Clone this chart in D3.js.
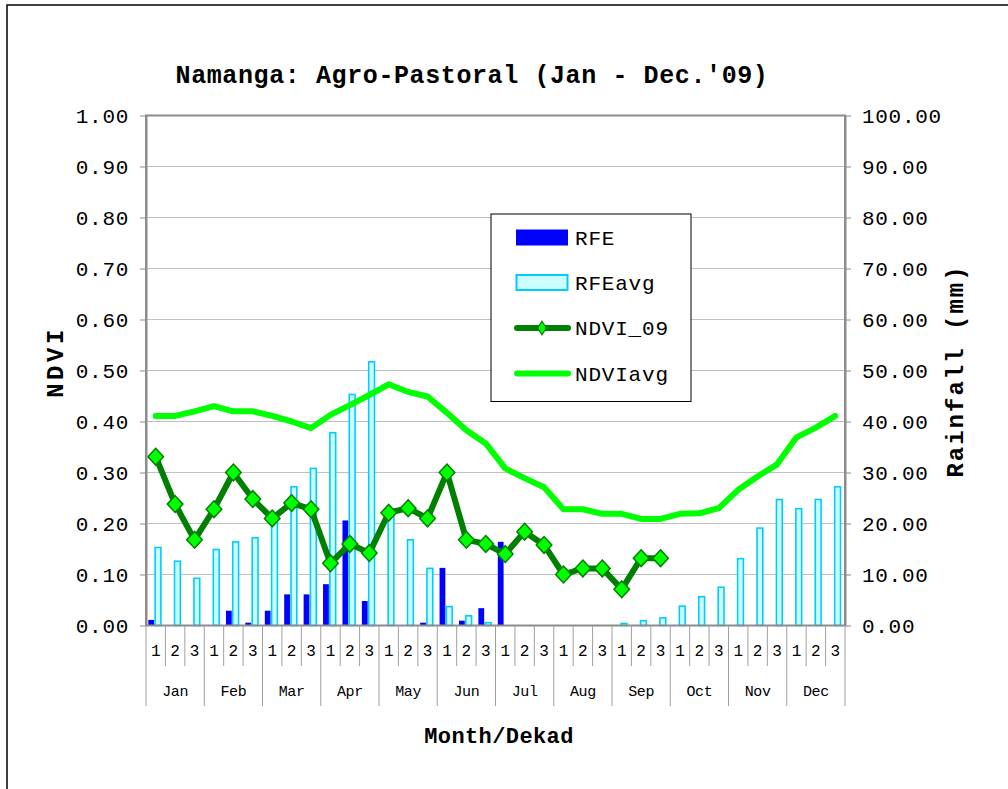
<!DOCTYPE html>
<html><head><meta charset="utf-8">
<script src="https://cdn.jsdelivr.net/npm/d3@7"></script>
<style>
body{margin:0;background:#fff}
svg{display:block}
text{font-family:"Liberation Mono","DejaVu Sans Mono",monospace;fill:#000}
</style>
</head><body>
<svg id="c" width="1008" height="789"></svg>
<script>
// ---------- data ----------
const months = ["Jan","Feb","Mar","Apr","May","Jun","Jul","Aug","Sep","Oct","Nov","Dec"];
const dekads = ["1","2","3"];
// Rainfall (mm), right axis
const rfe = [1.1,0,0, 0,2.9,0.55, 2.9,6.1,6.1, 8.1,20.6,4.8, 0,0,0.55, 11.3,0.95,3.4,
             16.4,0,0, 0,0,0, 0,0,0, 0,0,0, 0,0,0, 0,0,0];
const rfeAvg = [15.3,12.6,9.25, 14.9,16.4,17.2, 20.7,27.2,30.8, 37.8,45.3,51.7, 22.8,16.8,11.2,
                3.7,1.9,0.55, 0,0,0, 0,0,0, 0.4,0.95,1.5, 3.8,5.65,7.5, 13.1,19.1,24.7, 22.9,24.7,27.2];
// NDVI, left axis
const ndvi09 = [0.331,0.238,0.168, 0.228,0.300,0.248, 0.210,0.240,0.228, 0.122,0.160,0.142,
                0.221,0.230,0.210, 0.300,0.168,0.160, 0.140,0.184,0.158, 0.100,0.112,0.112,
                0.071,0.132,0.132];
const ndviAvg = [0.411,0.411,0.420, 0.430,0.420,0.420, 0.411,0.400,0.387, 0.413,0.432,0.452,
                 0.473,0.458,0.449, 0.417,0.383,0.357, 0.308,0.289,0.271, 0.228,0.228,0.219,
                 0.219,0.209,0.209, 0.219,0.220,0.230, 0.266,0.292,0.316, 0.369,0.388,0.411];
const leftTicks = [0,0.1,0.2,0.3,0.4,0.5,0.6,0.7,0.8,0.9,1.0];
const rightTicks = [0,10,20,30,40,50,60,70,80,90,100];
const seriesNames = ["RFE","RFEavg","NDVI_09","NDVIavg"];
const titleText = "Namanga: Agro-Pastoral (Jan - Dec.'09)";

// ---------- setup ----------
const svg = d3.select("#c");
const L = 146, R = 845, T = 115.5, B = 625.5;
const cats = [];
months.forEach(m => dekads.forEach(d => cats.push(m + "-" + d)));

const x = d3.scaleBand().domain(cats).range([L, R]).padding(0);
const xs = d3.scaleBand().domain(["RFE","RFEavg"]).range([2.3, 14.9]).paddingInner(0.15);
const yL = d3.scaleLinear().domain([0, 1]).range([B, T]);
const yR = d3.scaleLinear().domain([0, 100]).range([B, T]);

// outer frame
svg.append("rect").attr("x", 7).attr("y", 5).attr("width", 1100).attr("height", 900)
  .attr("fill", "none").attr("stroke", "#000").attr("stroke-width", 1.5);

// title
svg.append("text").attr("x", 472).attr("y", 83).attr("text-anchor", "middle")
  .style("font-size", "25px").style("font-weight", "bold").style("letter-spacing", "0.6px")
  .text(titleText);

// gridlines
svg.append("g").selectAll("line").data(leftTicks.filter(d => d > 0 && d < 1)).join("line")
  .attr("x1", L).attr("x2", R).attr("y1", d => yL(d)).attr("y2", d => yL(d))
  .attr("stroke", "#c0c0c0").attr("stroke-width", 1);

// bars
const bars = svg.append("g");
bars.selectAll("rect.rfe").data(rfe.map((v, i) => ({v, c: cats[i]})).filter(d => d.v > 0)).join("rect")
  .attr("class", "rfe")
  .attr("x", d => x(d.c) + xs("RFE")).attr("width", xs.bandwidth())
  .attr("y", d => yR(d.v)).attr("height", d => yR(0) - yR(d.v))
  .attr("fill", "#0000ff");
bars.selectAll("rect.avg").data(rfeAvg.map((v, i) => ({v, c: cats[i]})).filter(d => d.v > 0)).join("rect")
  .attr("class", "avg")
  .attr("x", d => x(d.c) + xs("RFEavg")).attr("width", xs.bandwidth())
  .attr("y", d => yR(d.v)).attr("height", d => yR(0) - yR(d.v))
  .attr("fill", "#ccffff").attr("stroke", "#00ccff").attr("stroke-width", 1.6);

// plot frame
svg.append("rect").attr("x", L).attr("y", T).attr("width", R - L).attr("height", B - T)
  .attr("fill", "none").attr("stroke", "#8c8c8c").attr("stroke-width", 2);

// lines
const cx = c => x(c) + x.bandwidth() / 2;
const lineL = d3.line().x(d => cx(d.c)).y(d => yL(d.v));
svg.append("path").datum(ndviAvg.map((v, i) => ({v, c: cats[i]})))
  .attr("d", lineL).attr("fill", "none").attr("stroke", "#00ff00")
  .attr("stroke-width", 6).attr("stroke-linejoin", "round").attr("stroke-linecap", "round");
const nd = ndvi09.map((v, i) => ({v, c: cats[i]}));
svg.append("path").datum(nd)
  .attr("d", lineL).attr("fill", "none").attr("stroke", "#008000")
  .attr("stroke-width", 6).attr("stroke-linejoin", "round").attr("stroke-linecap", "round");

function diamond(hw, hh) {
  return { draw(ctx) { ctx.moveTo(0, -hh); ctx.lineTo(hw, 0); ctx.lineTo(0, hh); ctx.lineTo(-hw, 0); ctx.closePath(); } };
}
svg.append("g").selectAll("path").data(nd).join("path")
  .attr("transform", d => `translate(${cx(d.c)},${yL(d.v)})`)
  .attr("d", d3.symbol().type(diamond(7.8, 8.4))())
  .attr("fill", "#00ff00").attr("stroke", "#008000").attr("stroke-width", 1.5);

// axes
const fmt = d3.format(".2f");
const axL = svg.append("g").attr("transform", `translate(${L},0)`)
  .call(d3.axisLeft(yL).tickValues(leftTicks).tickFormat(fmt).tickSize(6).tickSizeOuter(0).tickPadding(11));
const axR = svg.append("g").attr("transform", `translate(${R},0)`)
  .call(d3.axisRight(yR).tickValues(rightTicks).tickFormat(fmt).tickSize(6).tickSizeOuter(0).tickPadding(11));
[axL, axR].forEach(a => {
  a.select(".domain").attr("stroke", "#8c8c8c").attr("stroke-width", 2);
  a.selectAll(".tick line").attr("stroke", "#8c8c8c");
  a.selectAll("text").style("font-size", "21px").style("letter-spacing", "0.7px")
    .style("font-family", '"Liberation Mono",monospace').attr("fill", "#000");
});

// category axis
const xa = svg.append("g");
const bounds = cats.map((c, i) => ({pos: x(c), month: i % 3 === 0})).concat([{pos: R, month: true}]);
xa.selectAll("line").data(bounds).join("line")
  .attr("x1", d => d.pos).attr("x2", d => d.pos)
  .attr("y1", B).attr("y2", d => d.month ? 706 : 666)
  .attr("stroke", "#a0a0a0").attr("stroke-width", 1);
xa.selectAll("text.dk").data(cats).join("text").attr("class", "dk")
  .attr("x", d => cx(d)).attr("y", 656).attr("text-anchor", "middle")
  .style("font-size", "16px").text(d => d.split("-")[1]);
xa.selectAll("text.mo").data(months).join("text").attr("class", "mo")
  .attr("x", m => (x(m + "-1") + x(m + "-3") + x.bandwidth()) / 2).attr("y", 696)
  .attr("text-anchor", "middle").style("font-size", "15px").style("letter-spacing", "-0.4px")
  .text(m => m);

// axis titles
svg.append("text").attr("x", 499).attr("y", 743).attr("text-anchor", "middle")
  .style("font-size", "22px").style("font-weight", "bold").style("letter-spacing", "0.4px")
  .text("Month/Dekad");
svg.append("text").attr("transform", "translate(63,362) rotate(-90)").attr("text-anchor", "middle")
  .style("font-size", "24px").style("font-weight", "bold").style("letter-spacing", "3.5px")
  .text("NDVI");
svg.append("text").attr("transform", "translate(963,371) rotate(-90)").attr("text-anchor", "middle")
  .style("font-size", "24px").style("font-weight", "bold").style("letter-spacing", "2px")
  .text("Rainfall (mm)");

// legend
const lg = svg.append("g");
lg.append("rect").attr("x", 491).attr("y", 214).attr("width", 200).attr("height", 187.5)
  .attr("fill", "#fff").attr("stroke", "#000").attr("stroke-width", 1);
const rowY = [237.5, 282.5, 328, 373.5];
lg.append("rect").attr("x", 516).attr("y", rowY[0] - 8).attr("width", 52).attr("height", 16).attr("fill", "#0000ff");
lg.append("rect").attr("x", 516.5).attr("y", rowY[1] - 7.5).attr("width", 51).attr("height", 15)
  .attr("fill", "#ccffff").attr("stroke", "#00ccff").attr("stroke-width", 2);
lg.append("line").attr("x1", 517).attr("x2", 568).attr("y1", rowY[2]).attr("y2", rowY[2])
  .attr("stroke", "#008000").attr("stroke-width", 6).attr("stroke-linecap", "round");
lg.append("path").attr("transform", `translate(542,${rowY[2]})`)
  .attr("d", d3.symbol().type(diamond(4.3, 6.8))())
  .attr("fill", "#00ff00").attr("stroke", "#008000").attr("stroke-width", 1.2);
lg.append("line").attr("x1", 517).attr("x2", 568).attr("y1", rowY[3]).attr("y2", rowY[3])
  .attr("stroke", "#00ff00").attr("stroke-width", 6).attr("stroke-linecap", "round");
lg.selectAll("text").data(seriesNames).join("text")
  .attr("x", 575).attr("y", (d, i) => rowY[i] + 7)
  .style("font-size", "21px").style("letter-spacing", "0.8px").text(d => d);
</script>
</body></html>
